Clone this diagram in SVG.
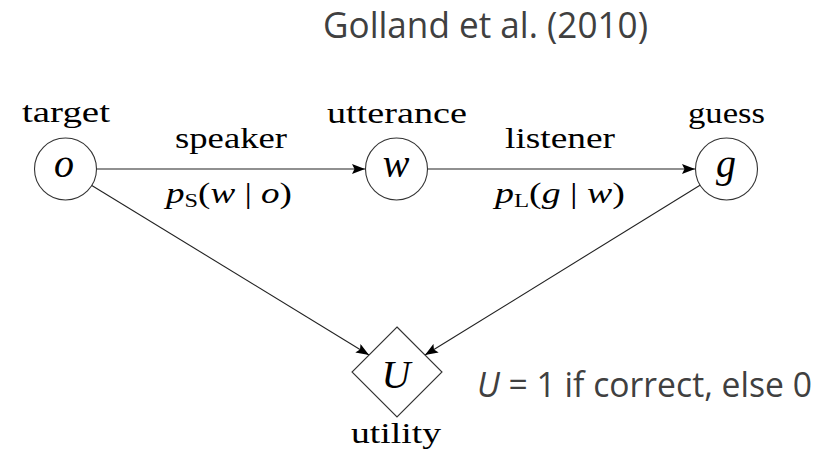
<svg xmlns="http://www.w3.org/2000/svg" width="833" height="454" viewBox="0 0 833 454">
<defs>
<marker id="arr" markerUnits="userSpaceOnUse" markerWidth="14" markerHeight="10" refX="13" refY="5" orient="auto">
<path d="M0,0 L13,5 L0,10 L2.5,5 z" fill="#000"/>
</marker>
</defs>
<style>
.node{fill:#fff;stroke:#333;stroke-width:1.1}
.edge{stroke:#222;stroke-width:1.1;fill:none;marker-end:url(#arr)}
.lbl{font-family:'Liberation Serif','DejaVu Serif',serif;font-size:29px;fill:#000;text-anchor:middle}
.math{font-family:'Liberation Serif','DejaVu Serif',serif;font-size:40px;font-style:italic;fill:#000;text-anchor:middle}
.cap{font-family:'Open Sans','Liberation Sans',sans-serif;fill:#404040}
</style>
<rect width="833" height="454" fill="#fff"/>
<text class="cap" x="323" y="38" font-size="36" textLength="325" lengthAdjust="spacingAndGlyphs">Golland et al. (2010)</text>
<g id="connectors">
<line class="edge" x1="96.5" y1="169" x2="365" y2="169"/>
<line class="edge" x1="428" y1="169" x2="695" y2="169"/>
<line class="edge" x1="91.4" y1="185.2" x2="369" y2="355"/>
<line class="edge" x1="700" y1="185.3" x2="425" y2="355"/>
</g>
<g id="edge-labels">
<text class="lbl" x="231" y="148" textLength="112" lengthAdjust="spacingAndGlyphs">speaker</text>
<text class="lbl" x="229" y="203" textLength="126" lengthAdjust="spacingAndGlyphs"><tspan font-style="italic">p</tspan><tspan font-size="19" dy="4">S</tspan><tspan dy="-4">(</tspan><tspan font-style="italic">w</tspan> | <tspan font-style="italic">o</tspan>)</text>
<text class="lbl" x="560" y="148" textLength="110" lengthAdjust="spacingAndGlyphs">listener</text>
<text class="lbl" x="560" y="203" textLength="130" lengthAdjust="spacingAndGlyphs"><tspan font-style="italic">p</tspan><tspan font-size="19" dy="4">L</tspan><tspan dy="-4">(</tspan><tspan font-style="italic">g</tspan> | <tspan font-style="italic">w</tspan>)</text>
</g>
<g id="node-o">
<circle class="node" cx="65.5" cy="169" r="31"/>
<text class="math" x="64" y="177">o</text>
<text class="lbl" x="66" y="122" textLength="88" lengthAdjust="spacingAndGlyphs">target</text>
</g>
<g id="node-w">
<circle class="node" cx="396.5" cy="169" r="31"/>
<text class="math" x="396" y="177">w</text>
<text class="lbl" x="397" y="123" textLength="140" lengthAdjust="spacingAndGlyphs">utterance</text>
</g>
<g id="node-g">
<circle class="node" cx="726.5" cy="169" r="31"/>
<text class="math" x="726" y="177">g</text>
<text class="lbl" x="726.5" y="123" textLength="77" lengthAdjust="spacingAndGlyphs">guess</text>
</g>
<g id="node-U">
<polygon class="node" points="397,327 442,372 397,417 352,372"/>
<text class="math" x="396" y="388" font-size="43">U</text>
<text class="lbl" x="396" y="443" textLength="90" lengthAdjust="spacingAndGlyphs">utility</text>
</g>
<text class="cap" x="477" y="397" font-size="35" textLength="335" lengthAdjust="spacingAndGlyphs"><tspan font-style="italic">U</tspan> = 1 if correct, else 0</text>
</svg>
